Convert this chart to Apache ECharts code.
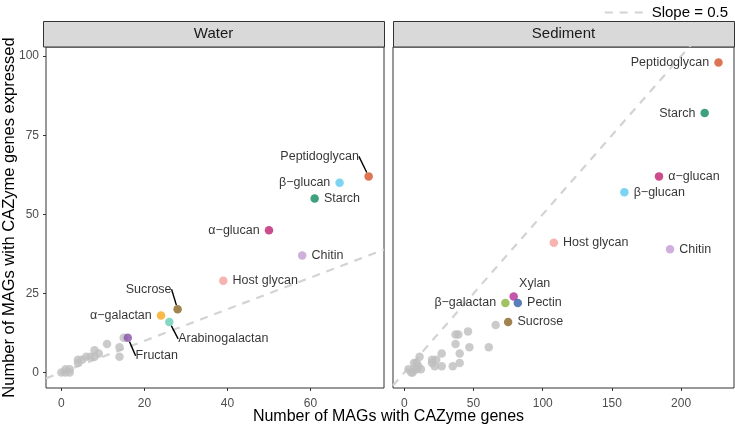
<!DOCTYPE html>
<html>
<head>
<meta charset="utf-8">
<script src="https://cdn.jsdelivr.net/npm/echarts@6/dist/echarts.min.js"></script>
<style>
  html, body { margin: 0; padding: 0; background: #fff; }
  #chart { width: 735px; height: 428px; }
</style>
</head>
<body>
<div id="chart"></div>
<script>
// facet names
var panels = ['Water', 'Sediment'];

// gray (unlabelled) MAG points, [nMAGs with genes, nMAGs expressed]
var waterGray = [[0, 0], [1, 0], [1, 1], [2, 1], [2, 0], [4, 3], [4, 4], [5, 4], [6, 5], [7, 5],
  [8, 7], [8, 5], [9, 6], [11, 9], [14, 8], [14, 5], [15, 11]];
var sedimentGray = [[3, 1], [5, 0], [6, 0], [7, 1], [7, 3], [9, 1], [9, 3], [11, 5], [12, 1], [10, 2],
  [20, 4], [20, 3], [23, 4], [22, 2], [27, 6], [27, 2], [35, 2], [40, 6], [40, 3],
  [37, 9], [37, 12], [39, 12], [46, 13], [47, 8], [61, 8], [66, 15]];

// labelled substrates
var waterNames = ['Peptidoglycan', 'β−glucan', 'Starch', 'α−glucan', 'Chitin', 'Host glycan',
  'Sucrose', 'α−galactan', 'Arabinogalactan', 'Fructan'];
var waterX = [74, 67, 61, 50, 58, 39, 28, 24, 26, 16];
var waterY = [62, 60, 55, 45, 37, 29, 20, 18, 16, 11];

var sedimentNames = ['Peptidoglycan', 'Starch', 'α−glucan', 'β−glucan', 'Host glycan', 'Chitin',
  'Xylan', 'β−galactan', 'Pectin', 'Sucrose'];
var sedimentX = [227, 217, 184, 159, 108, 192, 79, 73, 82, 75];
var sedimentY = [98, 82, 62, 57, 41, 39, 24, 22, 22, 16];

var xTicks = [[0, 20, 40, 60], [0, 50, 100, 150, 200]];
var yTicks = [0, 25, 50, 75, 100];

var slope = 0.5;

// colours per substrate
var colors = {
  'Peptidoglycan': '#D5522B',
  'β−glucan': '#5BC8EF',
  'Starch': '#0E8A5A',
  'α−glucan': '#BE2070',
  'Chitin': '#C39BD3',
  'Host glycan': '#F4A09C',
  'Sucrose': '#8B6424',
  'α−galactan': '#F8A81E',
  'Arabinogalactan': '#66CDB5',
  'Fructan': '#8650A8',
  'Xylan': '#B52D95',
  'β−galactan': '#8BB33A',
  'Pectin': '#2F5FA8'
};

// label placement (ggrepel look)
var waterPos = {
  'Peptidoglycan': {pos: 'inside', dx: -49, dy: -20},
  'β−glucan': {pos: 'left'},
  'Starch': {pos: 'right'},
  'α−glucan': {pos: 'left'},
  'Chitin': {pos: 'right'},
  'Host glycan': {pos: 'right'},
  'Sucrose': {pos: 'inside', dx: -29, dy: -20},
  'α−galactan': {pos: 'left'},
  'Arabinogalactan': {pos: 'inside', dx: 54, dy: 17},
  'Fructan': {pos: 'inside', dx: 29, dy: 18}
};
var sedimentPos = {
  'Peptidoglycan': {pos: 'left'},
  'Starch': {pos: 'left'},
  'α−glucan': {pos: 'right'},
  'β−glucan': {pos: 'right'},
  'Host glycan': {pos: 'right'},
  'Chitin': {pos: 'right'},
  'Xylan': {pos: 'inside', dx: 21, dy: -13, noLine: true},
  'β−galactan': {pos: 'left'},
  'Pectin': {pos: 'right'},
  'Sucrose': {pos: 'right'}
};

var xRanges = [[-3.7, 77.7], [-8.2, 238.2]];
var yRange = [-4.9, 102.9];

function buildLabelled(names, xs, ys, posMap) {
  return names.map(function (n, i) {
    var p = posMap[n];
    return {
      name: n,
      value: [xs[i], ys[i]],
      itemStyle: {color: colors[n]},
      label: {position: p.pos, distance: 5},
      labelLine: {show: p.pos === 'inside' && !p.noLine}
    };
  });
}

function layoutFn(names, posMap) {
  return function (params) {
    var p = posMap[names[params.dataIndex]];
    if (p.dx === undefined) return {};
    return {dx: p.dx, dy: p.dy};
  };
}

var myChart = echarts.init(document.getElementById('chart'));

var gridLeft = [43, 393];
var gridTop = 47;
var gridSize = 341;

var graphics = [];
panels.forEach(function (p, i) {
  graphics.push({
    type: 'rect',
    shape: {x: gridLeft[i] + 0.5, y: 21.5, width: gridSize, height: 25.5},
    style: {fill: '#D9D9D9', stroke: '#333333', lineWidth: 1}
  });
  graphics.push({
    type: 'text',
    x: gridLeft[i] + gridSize / 2,
    y: 34,
    style: {text: p, fill: '#1A1A1A', font: '15px "Liberation Sans", Arial, sans-serif',
      align: 'center', verticalAlign: 'middle'}
  });
});
// shared x axis title, centred over both panels
graphics.push({
  type: 'text',
  x: (gridLeft[0] + gridLeft[1] + gridSize) / 2,
  y: 417,
  style: {text: 'Number of MAGs with CAZyme genes', fill: '#000',
    font: '16px "Liberation Sans", Arial, sans-serif', align: 'center', verticalAlign: 'middle'}
});

var axisLabelStyle = {color: '#4D4D4D', fontSize: 12, fontFamily: 'Liberation Sans, Arial, sans-serif'};

var option = {
  animation: false,
  textStyle: {fontFamily: 'Liberation Sans, Arial, sans-serif'},
  legend: {
    data: ['Slope = 0.5'],
    right: 2,
    top: 0,
    itemWidth: 42,
    itemHeight: 14,
    itemGap: 6,
    itemStyle: {opacity: 0},
    textStyle: {fontSize: 15, color: '#000'}
  },
  graphic: graphics,
  grid: panels.map(function (p, i) {
    return {left: gridLeft[i], top: gridTop, width: gridSize, height: gridSize,
      show: true, borderColor: '#333333', borderWidth: 1, backgroundColor: '#fff'};
  }),
  xAxis: panels.map(function (p, i) {
    return {
      type: 'value', gridIndex: i,
      min: xRanges[i][0], max: xRanges[i][1],
      splitLine: {show: false},
      axisLine: {show: false, onZero: false},
      axisTick: {show: true, length: 3, lineStyle: {color: '#333333'}, customValues: xTicks[i]},
      axisLabel: Object.assign({margin: 10, customValues: xTicks[i]}, axisLabelStyle)
    };
  }),
  yAxis: panels.map(function (p, i) {
    return {
      type: 'value', gridIndex: i,
      min: yRange[0], max: yRange[1],
      splitLine: {show: false},
      axisLine: {show: false, onZero: false},
      axisTick: {show: i === 0, length: 3, lineStyle: {color: '#333333'}, customValues: yTicks},
      axisLabel: Object.assign({show: i === 0, margin: 7, customValues: yTicks}, axisLabelStyle),
      name: i === 0 ? 'Number of MAGs with CAZyme genes expressed' : '',
      nameLocation: 'middle',
      nameGap: 28,
      nameMoveOverlap: false,
      nameTextStyle: {fontSize: 16.5, color: '#000'}
    };
  }),
  series: [
    {
      name: 'Slope = 0.5', type: 'line', xAxisIndex: 0, yAxisIndex: 0,
      data: [[xRanges[0][0], slope * xRanges[0][0]], [xRanges[0][1], slope * xRanges[0][1]]],
      symbol: 'none', clip: true, z: 1,
      lineStyle: {color: '#D3D3D3', width: 2.2, type: [8, 7]}
    },
    {
      name: 'Slope = 0.5', type: 'line', xAxisIndex: 1, yAxisIndex: 1,
      data: [[xRanges[1][0], slope * xRanges[1][0]], [xRanges[1][1], slope * xRanges[1][1]]],
      symbol: 'none', clip: true, z: 1,
      lineStyle: {color: '#D3D3D3', width: 2.2, type: [8, 7]}
    },
    {
      type: 'scatter', xAxisIndex: 0, yAxisIndex: 0, data: waterGray,
      symbolSize: 8.5, itemStyle: {color: '#BEBEBE'}, z: 2
    },
    {
      type: 'scatter', xAxisIndex: 1, yAxisIndex: 1, data: sedimentGray,
      symbolSize: 8.5, itemStyle: {color: '#BEBEBE'}, z: 2
    },
    {
      type: 'scatter', xAxisIndex: 0, yAxisIndex: 0, z: 3,
      symbolSize: 8.5,
      data: buildLabelled(waterNames, waterX, waterY, waterPos),
      label: {show: true, formatter: '{b}', color: '#000', fontSize: 12.5},
      labelLine: {lineStyle: {color: '#000', width: 1.4}},
      labelLayout: layoutFn(waterNames, waterPos)
    },
    {
      type: 'scatter', xAxisIndex: 1, yAxisIndex: 1, z: 3,
      symbolSize: 8.5,
      data: buildLabelled(sedimentNames, sedimentX, sedimentY, sedimentPos),
      label: {show: true, formatter: '{b}', color: '#000', fontSize: 12.5},
      labelLine: {lineStyle: {color: '#000', width: 1.4}},
      labelLayout: layoutFn(sedimentNames, sedimentPos)
    }
  ]
};

myChart.setOption(option);
window.onresize = myChart.resize;
</script>
</body>
</html>
